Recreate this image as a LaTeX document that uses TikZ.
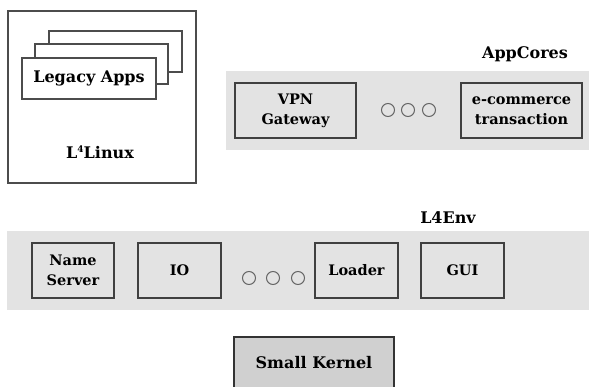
\documentclass[tikz,border=0pt]{standalone}
\usepackage{fontspec}
\setmainfont{DejaVu Serif}
\begin{document}
\begin{tikzpicture}[x=1pt,y=-1pt,
  band/.style={fill=bandgray,draw=none},
  box/.style={draw=black!75,line width=1.3pt,fill=bandgray,align=center,font=\fontsize{14.5}{20}\selectfont\bfseries},
  wbox/.style={draw=black!70,line width=1.1pt,fill=white},
  lbl/.style={font=\fontsize{16}{20}\selectfont\bfseries},
  dot/.style={circle,draw=black!60,line width=1pt,minimum size=13pt,inner sep=0pt}]
\definecolor{bandgray}{HTML}{E3E3E3}
\definecolor{kgray}{HTML}{D0D0D0}
\useasboundingbox[fill=white] (0,0) rectangle (589,387);
% L4Linux
\draw[line width=1.1pt,draw=black!70] (8,11) rectangle (196,183);
\node[lbl] (l4linux) at (100,152) {L\raisebox{0.75ex}{\fontsize{9}{9}\selectfont 4}Linux};
\draw[wbox] (49,31) rectangle (182,72);
\draw[wbox] (35,44) rectangle (168,84);
\node[wbox,lbl,minimum width=134pt,minimum height=41pt] (legacy) at (89,78.5) {Legacy Apps};
% AppCores
\fill[band] (226,71) rectangle (589,150);
\node[lbl] (appcores) at (525,54) {AppCores};
\node[box,minimum width=121pt,minimum height=55pt] (vpn) at (295.5,110.5) {VPN\\Gateway};
\node[dot] (c1) at (388,110) {};
\node[dot] (c2) at (408,110) {};
\node[dot] (c3) at (429,110) {};
\node[box,minimum width=121pt,minimum height=55pt] (ecom) at (521.5,110.5) {e-commerce\\transaction};
% L4Env
\fill[band] (7,231) rectangle (589,310);
\node[lbl] (l4env) at (448,218) {L4Env};
\node[box,minimum width=82pt,minimum height=55pt] (ns) at (73,270.5) {Name\\Server};
\node[box,minimum width=83pt,minimum height=55pt] (io) at (179.5,270.5) {IO};
\node[dot] (d1) at (249,278) {};
\node[dot] (d2) at (273,278) {};
\node[dot] (d3) at (298,278) {};
\node[box,minimum width=83pt,minimum height=55pt] (loader) at (356.5,270.5) {Loader};
\node[box,minimum width=83pt,minimum height=55pt] (gui) at (462.5,270.5) {GUI};
% Small Kernel
\draw[draw=black!80,line width=1.3pt,fill=kgray] (234,395) -- (234,337) -- (394,337) -- (394,395);
\node[lbl] (kernel) at (314,363) {Small Kernel};
\end{tikzpicture}
\end{document}
